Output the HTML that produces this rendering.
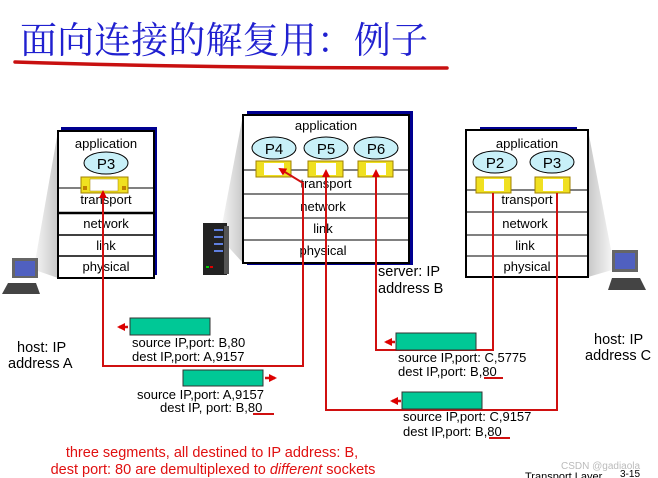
<!DOCTYPE html>
<html><head><meta charset="utf-8"><style>
body{margin:0;background:#fff;}
svg{display:block;}
text{font-family:"Liberation Sans","DejaVu Sans",sans-serif;}
</style></head><body>
<svg width="658" height="478" viewBox="0 0 658 478" xmlns="http://www.w3.org/2000/svg">
<defs>
<linearGradient id="g1" x1="1" y1="0" x2="0" y2="0"><stop offset="0" stop-color="#c8c8c8"/><stop offset="1" stop-color="#f4f4f4"/></linearGradient>
<linearGradient id="g2" x1="0" y1="0" x2="1" y2="0"><stop offset="0" stop-color="#c8c8c8"/><stop offset="1" stop-color="#f4f4f4"/></linearGradient>
<marker id="ah" markerWidth="8" markerHeight="8" refX="6" refY="4" orient="auto" markerUnits="userSpaceOnUse"><path d="M0,0 L8,4 L0,8 z" fill="#d00"/></marker>
</defs>
<text x="20" y="53" font-size="37" fill="#2020d0" textLength="408" style="font-family:'Noto Serif CJK SC','Noto Sans CJK SC',serif">面向连接的解复用：例子</text>
<path d="M15,62 Q200,68 447,68" stroke="#c81010" stroke-width="3.5" fill="none" stroke-linecap="round"/>

<polygon points="58,131 58,278 35,270 35,262" fill="url(#g1)"/>
<polygon points="243,115 243,263 222,240 222,225" fill="url(#g1)"/>
<polygon points="588,130 588,277 612,270 612,255" fill="url(#g2)"/>

<rect x="61" y="127" width="96" height="148" fill="#000090"/>
<rect x="58" y="131" width="96" height="147" fill="#fff" stroke="#000" stroke-width="2"/>
<line x1="58" y1="188" x2="154" y2="188" stroke="#000"/>
<line x1="58" y1="213" x2="154" y2="213" stroke="#000" stroke-width="2.5"/>
<line x1="58" y1="235" x2="154" y2="235" stroke="#000" stroke-width="1.5"/>
<line x1="58" y1="256" x2="154" y2="256" stroke="#000" stroke-width="1.5"/>
<g font-size="13" text-anchor="middle" fill="#000">
<text x="106" y="148">application</text>
<text x="106" y="204">transport</text>
<text x="106" y="228">network</text>
<text x="106" y="250">link</text>
<text x="106" y="271">physical</text>
</g>
<ellipse cx="106" cy="163" rx="22" ry="11" fill="#c8f0f8" stroke="#000"/>
<text x="106" y="169" font-size="15" text-anchor="middle">P3</text>
<rect x="81" y="177" width="47" height="16" fill="#f0e020" stroke="#a08000"/>
<rect x="90" y="179" width="28" height="12" fill="#fff" stroke="#a08000" stroke-width=".5"/>
<rect x="83" y="186" width="4" height="4" fill="#c08000"/><rect x="122" y="186" width="4" height="4" fill="#c08000"/>

<rect x="247" y="111" width="166" height="154" fill="#000090"/>
<rect x="243" y="115" width="166" height="148" fill="#fff" stroke="#000" stroke-width="2"/>
<line x1="243" y1="170" x2="409" y2="170" stroke="#000"/>
<line x1="243" y1="194" x2="409" y2="194" stroke="#000"/>
<line x1="243" y1="218" x2="409" y2="218" stroke="#000"/>
<line x1="243" y1="240" x2="409" y2="240" stroke="#000"/>
<g font-size="13" text-anchor="middle">
<text x="326" y="130">application</text>
<text x="326" y="188">transport</text>
<text x="323" y="211">network</text>
<text x="323" y="233">link</text>
<text x="323" y="255">physical</text>
</g>
<g font-size="15" text-anchor="middle">
<ellipse cx="274" cy="148" rx="22" ry="11" fill="#c8f0f8" stroke="#000"/><text x="274" y="154">P4</text>
<ellipse cx="326" cy="148" rx="22" ry="11" fill="#c8f0f8" stroke="#000"/><text x="326" y="154">P5</text>
<ellipse cx="376" cy="148" rx="22" ry="11" fill="#c8f0f8" stroke="#000"/><text x="376" y="154">P6</text>
</g>
<g fill="#f0e020" stroke="#a08000">
<rect x="256" y="161" width="35" height="16"/><rect x="308" y="161" width="35" height="16"/><rect x="358" y="161" width="35" height="16"/>
</g>
<g fill="#fff"><rect x="264" y="163" width="20" height="12"/><rect x="316" y="163" width="20" height="12"/><rect x="366" y="163" width="20" height="12"/></g>

<rect x="203" y="223" width="24" height="52" fill="#222"/>
<rect x="224" y="226" width="5" height="48" fill="#555"/>
<g fill="#6080e0"><rect x="214" y="229" width="9" height="2"/><rect x="214" y="236" width="9" height="2"/><rect x="214" y="243" width="9" height="2"/><rect x="214" y="250" width="9" height="2"/></g>
<rect x="206" y="266" width="3" height="2" fill="#0c0"/><rect x="210" y="266" width="3" height="2" fill="#d00"/>

<rect x="480" y="127" width="97" height="4" fill="#000090"/>
<rect x="466" y="130" width="122" height="147" fill="#fff" stroke="#000" stroke-width="2"/>
<line x1="466" y1="190" x2="588" y2="190" stroke="#000"/>
<line x1="466" y1="212" x2="588" y2="212" stroke="#000"/>
<line x1="466" y1="235" x2="588" y2="235" stroke="#000"/>
<line x1="466" y1="256" x2="588" y2="256" stroke="#000"/>
<g font-size="13" text-anchor="middle">
<text x="527" y="148">application</text>
<text x="527" y="204">transport</text>
<text x="525" y="228">network</text>
<text x="525" y="250">link</text>
<text x="527" y="271">physical</text>
</g>
<g font-size="15" text-anchor="middle">
<ellipse cx="495" cy="162" rx="22" ry="11" fill="#c8f0f8" stroke="#000"/><text x="495" y="168">P2</text>
<ellipse cx="552" cy="162" rx="22" ry="11" fill="#c8f0f8" stroke="#000"/><text x="552" y="168">P3</text>
</g>
<g fill="#f0e020" stroke="#a08000"><rect x="476" y="177" width="35" height="16"/><rect x="535" y="177" width="35" height="16"/></g>
<g fill="#fff"><rect x="484" y="179" width="20" height="12"/><rect x="543" y="179" width="20" height="12"/></g>

<g>
<rect x="12" y="258" width="26" height="20" fill="#666"/><rect x="15" y="261" width="20" height="15" fill="#5060c0"/>
<polygon points="2,294 40,294 36,283 8,283" fill="#444"/>
</g>
<g>
<rect x="612" y="250" width="26" height="22" fill="#666"/><rect x="615" y="253" width="20" height="16" fill="#5060c0"/>
<polygon points="608,290 646,290 640,278 612,278" fill="#444"/>
</g>

<g stroke="#d01010" stroke-width="2" fill="none">
<polyline points="303,263 303,366 103,366 103,192" marker-end="url(#ah)"/>
<polyline points="303,263 303,183 280,169" marker-end="url(#ah)"/>
<polyline points="557,193 557,410 326,410 326,171" marker-end="url(#ah)"/>
<polyline points="493,193 493,350 376,350 376,171" marker-end="url(#ah)"/>
</g>
<g fill="#00c896" stroke="#333" stroke-width="1">
<rect x="130" y="318" width="80" height="17"/>
<rect x="183" y="370" width="80" height="16"/>
<rect x="396" y="333" width="80" height="17"/>
<rect x="402" y="392" width="80" height="17"/>
</g>
<g stroke="#d01010" stroke-width="2.5">
<line x1="128" y1="327" x2="119" y2="327" marker-end="url(#ah)"/>
<line x1="265" y1="378" x2="275" y2="378" marker-end="url(#ah)"/>
<line x1="395" y1="342" x2="386" y2="342" marker-end="url(#ah)"/>
<line x1="401" y1="401" x2="392" y2="401" marker-end="url(#ah)"/>
</g>
<g font-size="13" fill="#000">
<text x="132" y="347">source IP,port: B,80</text>
<text x="132" y="361">dest IP,port: A,9157</text>
<text x="137" y="399">source IP,port: A,9157</text>
<text x="160" y="412">dest IP, port: B,80</text>
<text x="398" y="362">source IP,port: C,5775</text>
<text x="398" y="376">dest IP,port: B,80</text>
<text x="403" y="421">source IP,port: C,9157</text>
<text x="403" y="436">dest IP,port: B,80</text>
</g>
<g stroke="#d01010" stroke-width="2">
<line x1="253" y1="414" x2="274" y2="414"/>
<line x1="484" y1="378" x2="503" y2="378"/>
<line x1="489" y1="438" x2="510" y2="438"/>
</g>
<g font-size="14.5" fill="#000">
<text x="378" y="276">server: IP</text>
<text x="378" y="293">address B</text>
<text x="17" y="352">host: IP</text>
<text x="8" y="368">address A</text>
<text x="594" y="344">host: IP</text>
<text x="585" y="360">address C</text>
</g>
<g font-size="14.5" fill="#e01010" text-anchor="middle">
<text x="212" y="457">three segments, all destined to IP address: B,</text>
<text x="213" y="474">dest port: 80 are demultiplexed to <tspan font-style="italic">different</tspan> sockets</text>
</g>
<text x="561" y="469" font-size="10" fill="#bbb">CSDN @gadiaola</text>
<text x="525" y="480" font-size="11" fill="#000">Transport Layer</text>
<text x="620" y="477" font-size="10" fill="#000">3-15</text>
</svg>
</body></html>
